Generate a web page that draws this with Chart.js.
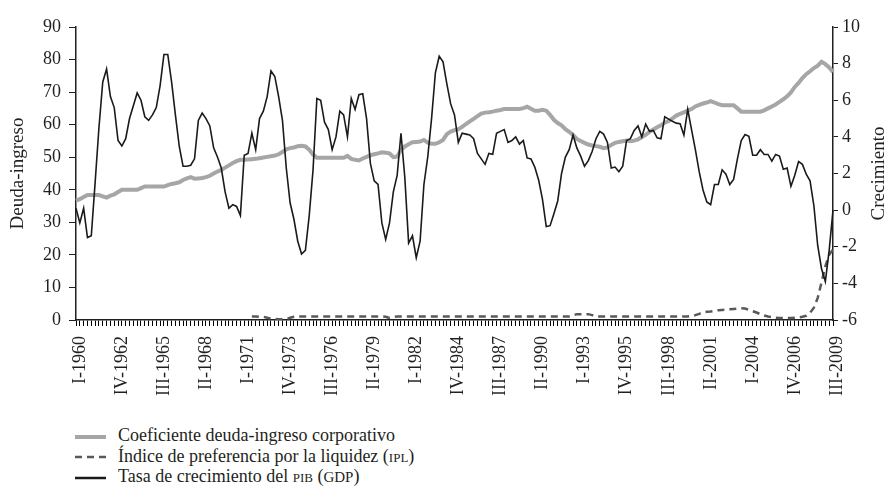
<!DOCTYPE html>
<html>
<head>
<meta charset="utf-8">
<script src="https://cdn.jsdelivr.net/npm/chart.js@4.4.1/dist/chart.umd.min.js"></script>
<style>
  body { margin: 0; background: #fff; }
  #wrap { position: relative; width: 889px; height: 488px; }
  #legend { position: absolute; left: 75px; top: 425px; font-family: "Liberation Serif", "DejaVu Serif", serif; font-size: 18px; color: #231f20; }
  .row { height: 20.5px; line-height: 20.5px; white-space: nowrap; }
  .row svg { vertical-align: middle; margin-right: 12px; }
  .sc { font-variant: small-caps; }
  .small { font-size: 15px; }
</style>
</head>
<body>
<div id="wrap">
  <canvas id="chart" width="889" height="412"></canvas>
  <div id="legend">
    <div class="row"><svg width="31" height="8"><line x1="0" y1="4" x2="31" y2="4" stroke="#a6a6a6" stroke-width="4"/></svg>Coeficiente deuda-ingreso corporativo</div>
    <div class="row"><svg width="31" height="8"><line x1="0" y1="4" x2="31" y2="4" stroke="#595959" stroke-width="2.5" stroke-dasharray="7 5"/></svg>Índice de preferencia por la liquidez (<span class="sc">ipl</span>)</div>
    <div class="row"><svg width="31" height="8"><line x1="0" y1="4" x2="31" y2="4" stroke="#1a1a1a" stroke-width="2.5"/></svg>Tasa de crecimiento del <span class="sc">pib</span> (<span class="small">GDP</span>)</div>
  </div>
</div>
<script>
// quarters I-1960 .. III-2009
const romans = ["I", "II", "III", "IV"];
const categories = [];
for (let y = 1960; y <= 2009; y++) {
  for (let q = 0; q < 4; q++) {
    if (categories.length < 199) categories.push(romans[q] + "-" + y);
  }
}

const tickLabels = ["I-1960", "IV-1962", "III-1965", "II-1968", "I-1971", "IV-1973",
  "III-1976", "II-1979", "I-1982", "IV-1984", "III-1987", "II-1990", "I-1993",
  "IV-1995", "III-1998", "II-2001", "I-2004", "IV-2006", "III-2009"];

// corporate debt-income ratio (left axis)
const debtRatio = [
  36.7, 37.1, 37.8, 38.4, 38.4, 38.4, 38.4, 38.0, 37.6, 38.2,
  38.6, 39.3, 40.0, 40.0, 40.0, 40.0, 40.0, 40.5, 41.0, 41.0,
  41.0, 41.0, 41.0, 41.0, 41.4, 41.8, 42.0, 42.3, 43.0, 43.5,
  43.9, 43.4, 43.5, 43.6, 43.9, 44.3, 45.0, 45.6, 46.1, 46.8,
  47.5, 48.2, 48.8, 49.2, 49.2, 49.3, 49.4, 49.5, 49.7, 49.9,
  50.1, 50.3, 50.5, 50.9, 51.6, 52.4, 52.8, 53.0, 53.4, 53.5,
  53.3, 52.3, 50.8, 49.8, 49.8, 49.8, 49.8, 49.8, 49.8, 49.8,
  49.8, 50.4, 49.5, 49.2, 49.0, 49.6, 50.1, 50.6, 50.9, 51.2,
  51.5, 51.4, 51.2, 50.0, 50.2, 52.2, 53.3, 54.0, 54.6, 54.7,
  54.8, 55.3, 54.5, 54.1, 54.1, 54.6, 55.3, 57.1, 57.9, 58.3,
  58.6, 59.3, 60.2, 61.0, 61.8, 62.6, 63.4, 63.7, 63.8, 64.0,
  64.3, 64.5, 64.8, 64.8, 64.8, 64.8, 64.8, 65.1, 65.5, 64.9,
  64.3, 64.3, 64.6, 64.3, 63.0, 61.5, 60.5, 59.8, 58.6, 57.8,
  56.8, 55.6, 55.0, 54.4, 53.9, 53.6, 53.4, 53.2, 52.8, 53.0,
  53.8, 54.4, 54.7, 54.9, 55.1, 54.9, 55.1, 55.5, 56.2, 56.9,
  57.8, 58.5, 59.2, 59.8, 60.6, 61.1, 61.9, 62.8, 63.3, 63.8,
  64.3, 64.8, 65.6, 66.1, 66.5, 66.8, 67.2, 66.8, 66.3, 66.0,
  66.0, 66.0, 66.0, 65.0, 64.0, 64.0, 64.0, 64.0, 64.0, 64.0,
  64.4, 65.0, 65.6, 66.2, 67.0, 67.8, 68.7, 69.9, 71.6, 72.8,
  74.3, 75.5, 76.4, 77.4, 78.1, 79.3, 78.6, 77.6, 76.2
];

// liquidity preference index (left axis), starts at III-1971
const iplStart = 46;
const iplValues = [
  1.1, 1.1, 1.0, 1.0,
  0.7, 0.4, 0.3, 0.2, 0.2, 0.3, 0.7, 1.0, 1.1, 1.1,
  1.1, 1.1, 1.1, 1.1, 1.1, 1.1, 1.1, 1.1, 1.1, 1.1,
  1.1, 1.1, 1.1, 1.1, 1.1, 1.1, 1.1, 1.1, 1.1, 1.1,
  1.1, 1.0, 0.6, 0.9, 1.1, 1.1, 1.1, 1.1, 1.1, 1.1,
  1.1, 1.1, 1.1, 1.1, 1.1, 1.1, 1.1, 1.1, 1.1, 1.1,
  1.1, 1.1, 1.1, 1.1, 1.1, 1.1, 1.1, 1.1, 1.1, 1.1,
  1.1, 1.1, 1.1, 1.1, 1.1, 1.1, 1.1, 1.1, 1.1, 1.1,
  1.1, 1.1, 1.1, 1.1, 1.1, 1.1, 1.1, 1.1, 1.1, 1.1,
  1.4, 1.8, 1.8, 1.8, 1.8, 1.5, 1.1, 1.1, 1.1, 1.1,
  1.1, 1.1, 1.1, 1.1, 1.1, 1.1, 1.1, 1.1, 1.1, 1.1,
  1.1, 1.1, 1.1, 1.1, 1.1, 1.1, 1.1, 1.1, 1.1, 1.1,
  1.1, 1.2, 1.5, 1.9, 2.3, 2.5, 2.6, 2.8, 3.0, 3.1,
  3.2, 3.3, 3.4, 3.5, 3.6, 3.5, 3.1, 2.7, 2.3, 1.8,
  1.4, 1.1, 0.9, 0.7, 0.6, 0.6, 0.6, 0.6, 0.7, 0.8,
  1.0, 1.3, 2.2, 3.8, 6.8, 11.5, 16.5, 20.0, 21.7
];

// GDP growth rate (right axis)
const gdpGrowth = [
  0.1, -0.7, 0.1, -1.5, -1.4, 1.5, 4.5, 7.0, 7.7, 6.2,
  5.6, 3.8, 3.5, 3.9, 5.0, 5.7, 6.4, 6.0, 5.1, 4.9,
  5.2, 5.6, 6.8, 8.5, 8.5, 7.0, 5.2, 3.5, 2.4, 2.4,
  2.45, 2.8, 4.9, 5.3, 5.0, 4.6, 3.4, 2.9, 2.3, 1.0,
  0.1, 0.3, 0.2, -0.3, 3.0, 3.1, 4.2, 3.3, 5.0, 5.4,
  6.2, 7.6, 7.3, 6.2, 4.9, 2.3, 0.4, -0.5, -1.7, -2.4,
  -2.2, -0.3, 2.2, 6.1, 6.0, 4.8, 4.4, 3.3, 4.0, 5.4,
  5.2, 4.0, 6.1, 5.5, 6.3, 6.35, 5.0, 2.55, 1.6, 1.4,
  -0.7, -1.6, -0.7, 1.0, 1.9, 4.2, 1.8, -1.8, -1.4, -2.6,
  -1.7, 1.4, 2.9, 5.0, 7.5, 8.4, 8.1, 6.9, 5.8, 5.2,
  3.7, 4.2, 4.15, 4.1, 3.9, 3.1, 2.8, 2.5, 3.1, 3.05,
  4.2, 4.3, 4.4, 3.7, 3.8, 4.0, 3.6, 3.8, 2.85, 2.8,
  2.35, 1.65, 0.6, -0.9, -0.85, -0.2, 0.5, 2.0, 2.9, 3.3,
  4.1, 3.4, 2.95, 2.4, 2.7, 3.2, 3.9, 4.3, 4.15, 3.7,
  2.3, 2.35, 2.1, 2.4, 3.8, 3.9, 4.35, 4.6, 4.0, 4.7,
  4.3, 4.35, 3.95, 3.9, 5.1, 4.97, 4.85, 4.75, 4.72, 4.1,
  5.5, 4.4, 3.3, 2.1, 1.1, 0.45, 0.3, 1.4, 1.4, 2.2,
  1.96, 1.4, 1.68, 2.8, 3.8, 4.13, 4.03, 3.0, 3.0, 3.3,
  3.04, 3.04, 2.68, 3.04, 2.95, 2.23, 2.3, 1.3, 1.9, 2.65,
  2.5, 1.96, 1.6, 0.24, -1.93, -3.2, -3.9, -2.2, 0.0
];

const leftTitle = "Deuda-ingreso";
const rightTitle = "Crecimiento";

const FONT = "'Liberation Serif', 'DejaVu Serif', serif";
const INK = "#231f20";

let iplData = [];
for (let i = 0; i < categories.length; i++) {
  iplData.push(i < iplStart ? null : iplValues[i - iplStart]);
}

// rotated axis titles, both read bottom to top
const axisTitles = {
  id: "axisTitles",
  afterDraw(chart) {
    let ctx = chart.ctx;
    let mid = (chart.chartArea.top + chart.chartArea.bottom) / 2;
    ctx.save();
    ctx.font = "19px " + FONT;
    ctx.fillStyle = INK;
    ctx.textAlign = "center";
    ctx.textBaseline = "middle";
    [[18, leftTitle], [879, rightTitle]].forEach(([x, text]) => {
      ctx.save();
      ctx.translate(x, mid);
      ctx.rotate(-Math.PI / 2);
      ctx.fillText(text, 0, 0);
      ctx.restore();
    });
    ctx.restore();
  },
};

new Chart(document.getElementById("chart"), {
  type: "line",
  data: {
    labels: categories,
    datasets: [
      {
        label: "Tasa de crecimiento del PIB (GDP)",
        data: gdpGrowth,
        yAxisID: "yR",
        borderColor: "#1a1a1a",
        borderWidth: 1.6,
        pointRadius: 0,
        order: 0,
      },
      {
        label: "Índice de preferencia por la liquidez (IPL)",
        data: iplData,
        yAxisID: "y",
        borderColor: "#595959",
        borderWidth: 2.5,
        borderDash: [7, 5],
        pointRadius: 0,
        order: 1,
      },
      {
        label: "Coeficiente deuda-ingreso corporativo",
        data: debtRatio,
        yAxisID: "y",
        borderColor: "#a6a6a6",
        borderWidth: 4,
        pointRadius: 0,
        order: 2,
      },
    ],
  },
  options: {
    responsive: false,
    animation: false,
    layout: { padding: { top: 27, left: 0, right: 0, bottom: 0 } },
    plugins: { legend: { display: false }, tooltip: { enabled: false } },
    scales: {
      x: {
        offset: false,
        grid: { drawOnChartArea: false, color: "#000", lineWidth: 1, tickLength: 6 },
        border: { color: INK, width: 1.5 },
        ticks: {
          autoSkip: false,
          minRotation: 90,
          maxRotation: 90,
          padding: 10,
          labelOffset: 4,
          color: INK,
          font: { family: FONT, size: 18 },
          callback: function (v, i) {
            let lab = categories[i];
            return tickLabels.includes(lab) ? lab : "";
          },
        },
        afterFit: (s) => { s.height = 92; },
      },
      y: {
        position: "left",
        min: 0,
        max: 90,
        grid: { drawOnChartArea: false, color: INK, tickLength: 7 },
        border: { color: INK, width: 1.5 },
        ticks: { stepSize: 10, padding: 8, color: INK, font: { family: FONT, size: 18 } },
        afterFit: (s) => { s.width = 76; },
      },
      yR: {
        position: "right",
        min: -6,
        max: 10,
        grid: { drawOnChartArea: false, color: INK, tickLength: 5 },
        border: { color: INK, width: 1.5 },
        ticks: { stepSize: 2, padding: 4, color: INK, font: { family: FONT, size: 18 } },
        afterFit: (s) => { s.width = 56; },
      },
    },
  },
  plugins: [axisTitles],
});
</script>
</body>
</html>
